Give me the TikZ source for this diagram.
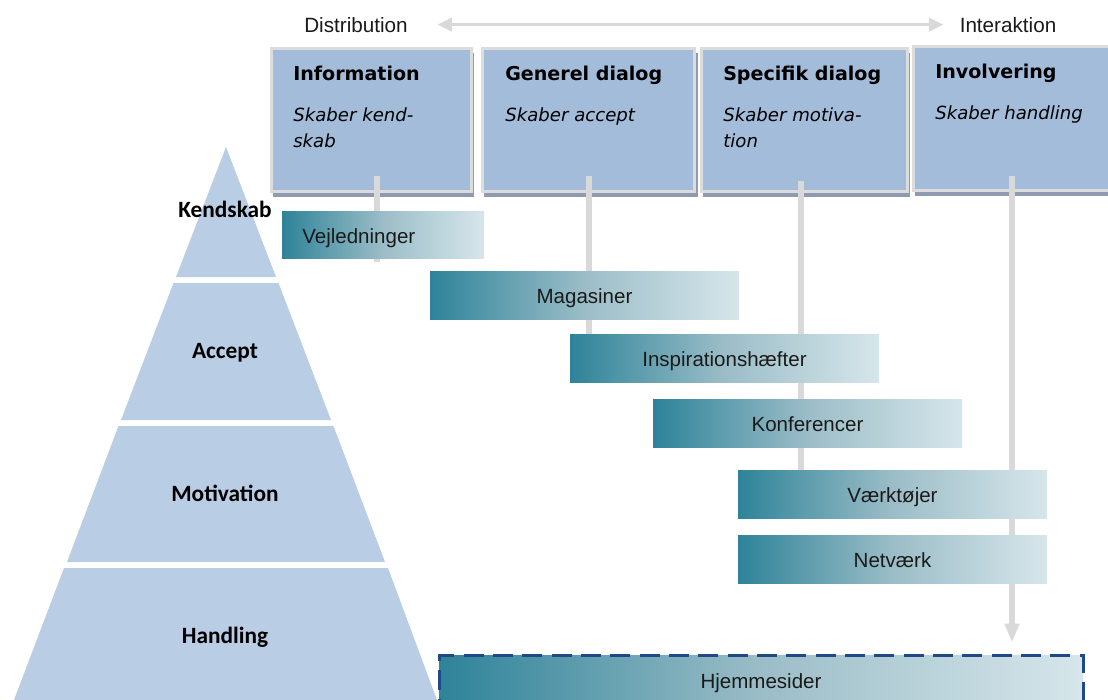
\documentclass[tikz,border=0pt]{standalone}
\usepackage{fontspec}
\setmainfont{Liberation Sans}
\newfontfamily\boxfont{DejaVu Sans}
\newfontfamily\pyrfont{Carlito}
\usetikzlibrary{arrows.meta,fit}
\pgfdeclarelayer{front}
\pgfsetlayers{main,front}
\definecolor{pyrfill}{HTML}{B9CDE5}
\definecolor{boxfill}{HTML}{A3BCDA}
\definecolor{boxborder}{HTML}{DCDCDC}
\definecolor{shadowc}{HTML}{8E9BB0}
\definecolor{linegray}{HTML}{D9D9D9}
\definecolor{tealA}{HTML}{2E8399}
\definecolor{tealM}{HTML}{9BBDC7}
\definecolor{tealB}{HTML}{D6E6EB}
\definecolor{dashblue}{HTML}{1F4A85}
\definecolor{txt}{HTML}{1A1A1A}
\tikzset{
  pyr/.style={fill=pyrfill, draw=none},
  pyrlabel/.style={font=\pyrfont\bfseries\fontsize{17.5}{21}\selectfont, anchor=base, inner sep=0pt, text=black},
  topbox/.style={draw=boxborder, line width=2.25pt, fill=boxfill, inner sep=0pt},
  boxshadow/.style={fill=shadowc},
  headtext/.style={font=\boxfont\bfseries\fontsize{14.3}{17}\selectfont, anchor=base west, inner sep=0pt, text=black},
  subtext/.style={font=\boxfont\itshape\fontsize{13.6}{17}\selectfont, anchor=base west, inner sep=0pt, text=black},
  toptext/.style={font=\fontsize{15.5}{18}\selectfont, anchor=base, inner sep=0pt, text=txt},
  bar/.style={rectangle, left color=tealA, right color=tealB, middle color=tealM, inner sep=0pt, minimum height=35.5pt, font=\fontsize{15.4}{18}\selectfont, text=txt},
  bartext/.style={font=\fontsize{15.4}{18}\selectfont, text=txt, inner sep=0pt},
  dashedbar/.style={bar, draw=dashblue, line width=2.25pt, dash pattern=on 15pt off 7pt},
  vline/.style={draw=linegray, line width=4.5pt},
  toparrow/.style={draw=linegray, line width=2.25pt, {Triangle[length=11pt,width=10pt]}-{Triangle[length=11pt,width=10pt]}},
  downarrow/.style={draw=linegray, line width=4.5pt, -{Triangle[length=14pt,width=10.5pt]}}
}
\begin{document}
\begin{tikzpicture}[x=0.75pt,y=-0.75pt]
\useasboundingbox (0,0) rectangle (1108,700);
\clip (0,0) rectangle (1108,700);

% pyramid
\fill[pyr] (226,147) -- (276,277) -- (176,277) -- cycle;
\fill[pyr] (173.5,283) -- (278.5,283) -- (331,420) -- (121,420) -- cycle;
\fill[pyr] (118.5,426) -- (333.5,426) -- (385,562) -- (67,562) -- cycle;
\fill[pyr] (64,568) -- (388,568) -- (437,700) -- (14,700) -- cycle;
\node[pyrlabel] (pk) at (225,217) {Kendskab};
\node[pyrlabel] (pa) at (225,358) {Accept};
\node[pyrlabel] (pm) at (225,501) {Motivation};
\node[pyrlabel] (ph) at (225,643) {Handling};

% top texts and arrow
\node[toptext] (dist) at (356,32) {Distribution};
\node[toptext] (inter) at (1008,32) {Interaktion};
\draw[toparrow, shorten <=22pt, shorten >=12pt] (dist.east) -- (inter.west);

% top boxes
\fill[boxshadow] (273,53) rectangle (474,197);
\fill[boxshadow] (484,53) rectangle (698,197);
\fill[boxshadow] (703,53) rectangle (910,197);
\fill[boxshadow] (915,51) rectangle (1120,196);
\node[topbox, fit={(271,48) (471,191)}] (info) {};
\node[topbox, fit={(482,48) (694,191)}] (gen) {};
\node[topbox, fit={(701,48) (907,191)}] (spec) {};
\node[topbox, fit={(913,46) (1118,190)}] (inv) {};

\node[headtext] (infoh) at (293,80) {Information};
\node[subtext] (infos1) at (293,121) {Skaber kend-};
\node[subtext] (infos2) at (293,147) {skab};
\node[headtext] (genh) at (505,80) {Generel dialog};
\node[subtext] (gens1) at (505,121) {Skaber accept};
\node[headtext] (spech) at (723,80) {Specifik dialog};
\node[subtext] (specs1) at (723,121) {Skaber motiva-};
\node[subtext] (specs2) at (723,147) {tion};
\node[headtext] (invh) at (935,78) {Involvering};
\node[subtext] (invs1) at (935,119) {Skaber handling};

% bars (front layer, above the connector lines)
\begin{pgfonlayer}{front}
\node[bar, minimum width=151.5pt] (vej) at (383,235) {};
\node[bartext, anchor=base west] (vejt) at (302,243) {Vejledninger};
\node[bar, minimum width=231.75pt] (mag) at (584.5,295.5) {};
\node[bartext, anchor=base] (magt) at (584.5,303) {Magasiner};
\node[bar, minimum width=231.75pt] (insp) at (724.5,358.5) {};
\node[bartext, anchor=base] (inspt) at (724.5,366) {Inspirationshæfter};
\node[bar, minimum width=231.75pt] (konf) at (807.5,423.5) {};
\node[bartext, anchor=base] (konft) at (807.5,431) {Konferencer};
\node[bar, minimum width=231.75pt] (vaerk) at (892.5,494.5) {};
\node[bartext, anchor=base] (vaerkt) at (892.5,502) {Værktøjer};
\node[bar, minimum width=231.75pt] (net) at (892.5,559.5) {};
\node[bartext, anchor=base] (nett) at (892.5,567) {Netværk};
\node[dashedbar, minimum width=483pt, minimum height=35.5pt] (hjem) at (761,679.5) {};
\node[bartext, anchor=base] (hjemt) at (761,688) {Hjemmesider};
\end{pgfonlayer}

% vertical connector lines (from the top boxes down to the bars)
\coordinate (l1) at (377,176);
\coordinate (l2) at (589,176);
\coordinate (l3) at (801,181);
\coordinate (l4) at (1012,176);
\draw[vline] (l1) -- ([yshift=-2pt]l1 |- vej.south);
\draw[vline] (l2) -- ([yshift=-1pt]l2 |- insp.north);
\draw[vline] (l3) -- ([yshift=-1pt]l3 |- vaerk.north);
\draw[downarrow, shorten >=9pt] (l4) -- (l4 |- hjem.north);
\end{tikzpicture}
\end{document}
